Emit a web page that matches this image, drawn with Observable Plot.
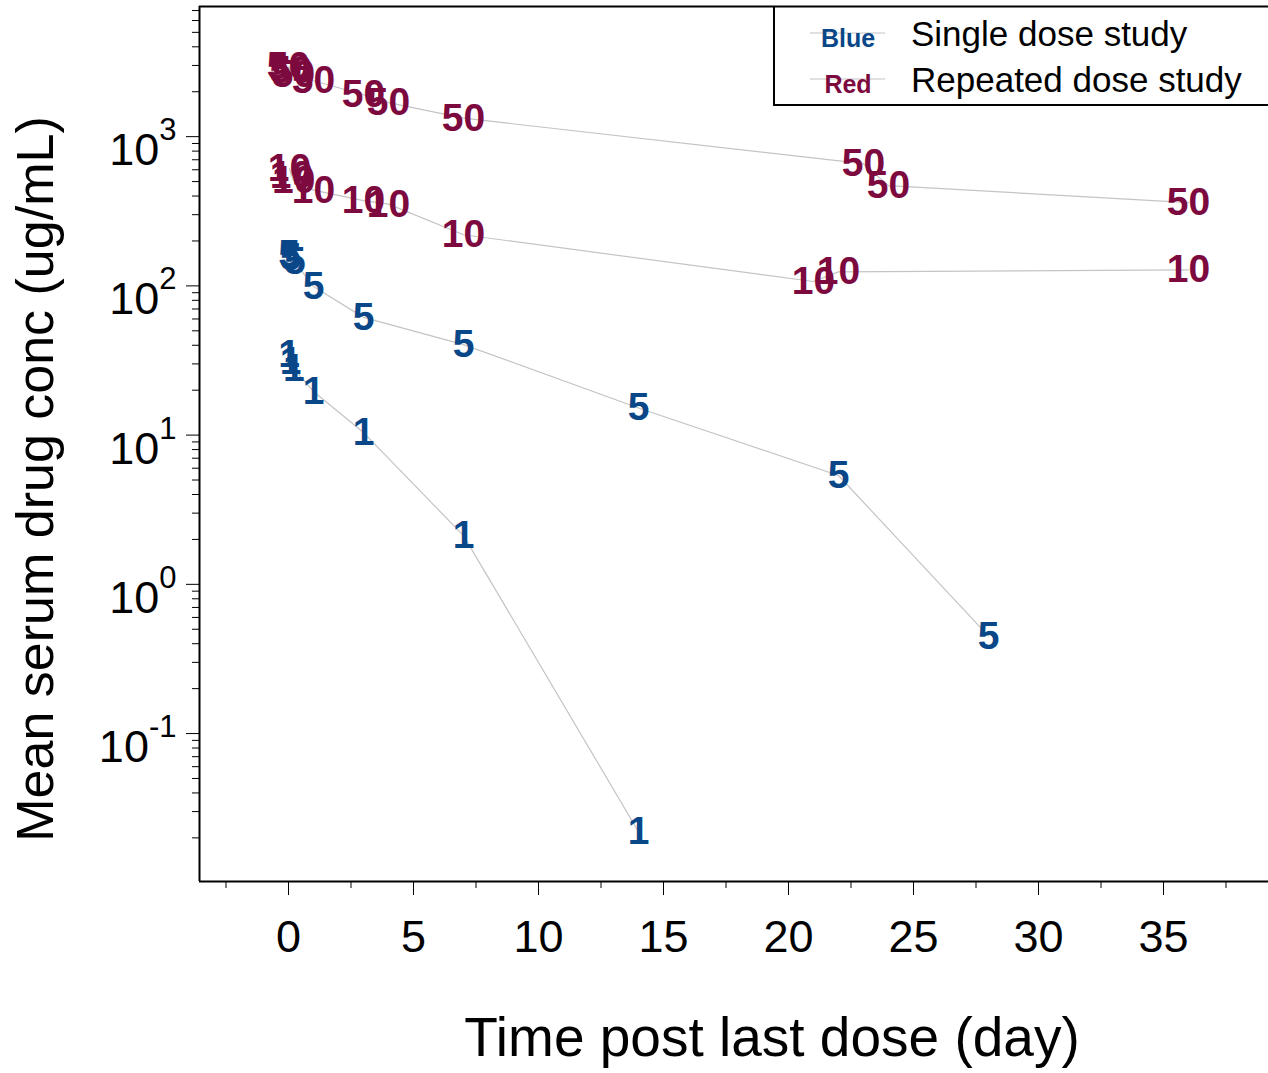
<!DOCTYPE html>
<html>
<head>
<meta charset="utf-8">
<script src="https://cdn.jsdelivr.net/npm/d3@7"></script>
<script src="https://cdn.jsdelivr.net/npm/@observablehq/plot@0.6"></script>
<style>
  html, body { margin: 0; padding: 0; background: #ffffff; }
  #wrap { position: relative; width: 1268px; height: 1073px; }
  #legend { position: absolute; left: 0; top: 0; }
</style>
</head>
<body>
<div id="wrap"></div>
<script>
const FONT = '"Liberation Sans", Arial, Helvetica, sans-serif';
const BLUE = "#0a4788";
const RED = "#7d0a3f";

// ---- Single dose study (blue labels) ----
const dose1Days = [0.02, 0.08, 0.21, 1, 3, 7, 14];
const dose1Conc = [34.6, 31.1, 27.9, 19.6, 10.4, 2.12, 0.022];
const dose5Days = [0.02, 0.08, 0.25, 1, 3, 7, 14, 22, 28];
const dose5Conc = [162, 155, 145, 98.9, 61.5, 40.4, 15.2, 5.36, 0.45];

// ---- Repeated dose study (red labels) ----
const dose10Days = [0.04, 0.12, 0.21, 1, 3, 4, 7, 21, 22, 36];
const dose10Conc = [611, 548, 507, 438, 373, 353, 220, 107, 124, 128];
const dose50Days = [0.0, 0.1, 0.2, 1, 3, 4, 7, 23, 24, 36];
const dose50Conc = [2950, 2770, 2600, 2370, 1910, 1690, 1330, 659, 470, 361];

// ---- Axes / text ----
const xMajor = [0, 5, 10, 15, 20, 25, 30, 35];
const xMinor = [-2.5, 2.5, 7.5, 12.5, 17.5, 22.5, 27.5, 32.5, 37.5];
const yMajor = [0.1, 1, 10, 100, 1000];
const yMinorMultipliers = [2, 3, 4, 5, 6, 7, 8, 9];
const yDecades = [0.01, 0.1, 1, 10, 100, 1000];
const xTitle = "Time post last dose (day)";
const yTitle = "Mean serum drug conc (ug/mL)";
const legendKeys = ["Blue", "Red"];
const legendLabels = ["Single dose study", "Repeated dose study"];
const studies = ["Single", "Repeated"];

const xDomain = [-3.56, 39.2];
const yDomain = [0.0102, 7450];
const yMinor = yDecades.flatMap(d => yMinorMultipliers.map(m => m * d))
  .filter(v => v > yDomain[0] && v < yDomain[1]);

const series = [
  {dose: "1", study: "Single", days: dose1Days, conc: dose1Conc},
  {dose: "5", study: "Single", days: dose5Days, conc: dose5Conc},
  {dose: "10", study: "Repeated", days: dose10Days, conc: dose10Conc},
  {dose: "50", study: "Repeated", days: dose50Days, conc: dose50Conc}
];
const rows = series.flatMap(s => s.days.map((d, i) => ({dose: s.dose, study: s.study, day: d, conc: s.conc[i]})));

const chart = Plot.plot({
  width: 1268,
  height: 1073,
  marginLeft: 199,
  marginRight: 0,
  marginTop: 6,
  marginBottom: 192,
  style: {fontFamily: FONT, background: "white", color: "black", overflow: "visible"},
  x: {domain: xDomain, axis: null},
  y: {type: "log", domain: yDomain, axis: null},
  color: {domain: studies, range: [BLUE, RED]},
  marks: [
    Plot.line(rows, {x: "day", y: "conc", z: "dose", stroke: "#c4c4c4", strokeWidth: 1.2}),
    Plot.text(rows, {x: "day", y: "conc", text: "dose", fill: "study", fontSize: 39, fontWeight: "bold"}),
    Plot.axisX(xMinor, {tickSize: 7, tickFormat: () => "", label: null}),
    Plot.axisX(xMajor, {tickSize: 14, tickPadding: 25, fontSize: 45, label: null}),
    Plot.axisY(yMinor, {tickSize: 7, tickFormat: () => "", label: null}),
    Plot.axisY(yMajor, {tickSize: 13, tickFormat: () => "", label: null}),
    Plot.axisY(yMajor, {tickSize: 0, tickPadding: 23, fontSize: 45, dy: 14, label: null,
      tickFormat: d => "10^" + Math.round(Math.log10(d))}),
    Plot.ruleX([xDomain[0]], {strokeWidth: 2}),
    Plot.ruleY([yDomain[1]], {strokeWidth: 2}),
    Plot.ruleY([yDomain[0]], {strokeWidth: 2}),
    Plot.text([xTitle], {text: d => d, frameAnchor: "bottom", textAnchor: "middle", lineAnchor: "bottom",
      dx: 38, dy: 174, fontSize: 55}),
    Plot.text([yTitle], {text: d => d, frameAnchor: "left", textAnchor: "middle", lineAnchor: "bottom",
      rotate: -90, dx: -147, dy: 35, fontSize: 52})
  ]
});

// superscript exponents on the y tick labels
const svgNS = "http://www.w3.org/2000/svg";
chart.querySelectorAll("text").forEach(t => {
  if (t.children.length) return;
  const parts = t.textContent.split("^");
  if (parts.length !== 2) return;
  t.textContent = parts[0];
  const ts = document.createElementNS(svgNS, "tspan");
  ts.setAttribute("dy", "-25");
  ts.setAttribute("font-size", "31");
  ts.textContent = parts[1];
  t.appendChild(ts);
});

const wrap = document.getElementById("wrap");
wrap.appendChild(chart);

// legend box in the top-right corner of the plot
const leg = d3.select(wrap).append("svg")
  .attr("id", "legend")
  .attr("width", 1268)
  .attr("height", 110)
  .style("font-family", FONT);
leg.append("path")
  .attr("d", "M774,6V105H1268")
  .attr("fill", "none")
  .attr("stroke", "black")
  .attr("stroke-width", 2);
const legendColors = [BLUE, RED];
const rowY = [33, 79];
legendKeys.forEach((k, i) => {
  leg.append("line")
    .attr("x1", 810).attr("x2", 885)
    .attr("y1", rowY[i]).attr("y2", rowY[i])
    .attr("stroke", "#c4c4c4").attr("stroke-width", 1.2);
  leg.append("text")
    .attr("x", 848).attr("y", rowY[i] + 13.5)
    .attr("text-anchor", "middle")
    .attr("font-size", 25).attr("font-weight", "bold")
    .attr("fill", legendColors[i])
    .text(k);
  leg.append("text")
    .attr("x", 911).attr("y", rowY[i] + 13)
    .attr("font-size", 35)
    .attr("fill", "black")
    .text(legendLabels[i]);
});
</script>
</body>
</html>
